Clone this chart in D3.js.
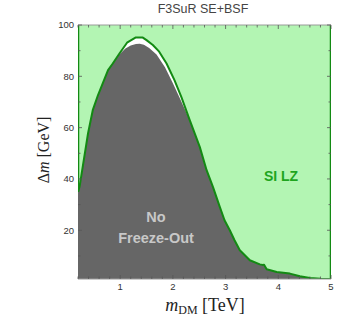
<!DOCTYPE html>
<html><head><meta charset="utf-8">
<script src="https://cdn.jsdelivr.net/npm/d3@7"></script>
<style>body{margin:0;background:#fff}svg{display:block}</style>
</head><body>
<svg id="c" width="351" height="328"></svg>
<script>
// SI LZ boundary (green line): mDM [TeV] vs Δm [GeV]
const lzX = [0.2,0.23,0.39,0.48,0.58,0.77,0.86,0.99,1.13,1.29,1.43,1.50,1.62,1.74,1.88,2.03,2.16,2.32,2.51,2.64,2.76,2.89,2.98,3.08,3.17,3.27,3.46,3.65,3.70,3.73,3.78,3.97,4.22,4.41,4.6,4.8,5.0];
const lzY = [35,37,57.7,66.8,72.7,82.4,85,89,93.1,95.1,95.1,94.1,92.2,89.6,85,78.5,72,62.9,52.5,43.4,36.9,29.1,23.9,20,16.1,12.2,8.3,6.7,6.5,6.6,4.8,3.7,3.1,2.05,1.4,1.1,1.0];
// No freeze-out boundary (gray region top)
const nfX = [0.2,0.23,0.39,0.48,0.58,0.77,0.86,0.99,1.1,1.2,1.3,1.37,1.45,1.55,1.69,1.85,2.0,2.13,2.32,2.51,2.64,2.76,2.89,2.98,3.08,3.17,3.27,3.46,3.65,3.70,3.73,3.78,3.97,4.22,4.41,4.6,4.8,5.0];
const nfY = [35,37,57.7,66.8,72.7,82.4,85,88.6,90.8,92.0,92.6,92.7,92.3,91,88.5,83.5,77.3,71.5,62.9,52.5,43.4,36.9,29.1,23.9,20,16.1,12.2,8.3,6.7,6.5,6.6,4.8,3.7,3.1,2.05,1.4,1.1,1.0];
const xTicks = [1,2,3,4,5];
const yTicks = [20,40,60,80,100];
const title = "F3SuR SE+BSF";

const svg = d3.select("#c");
const L=78,R=331,T=25,B=279;
const x = d3.scaleLinear().domain([0.2,5]).range([L,R]);
const y = d3.scaleLinear().domain([1,100]).range([B,T]);

const lz = lzX.map((v,i)=>[v,lzY[i]]);
const nf = nfX.map((v,i)=>[v,nfY[i]]);

svg.append("defs").append("clipPath").attr("id","cp").append("rect")
  .attr("x",L).attr("y",T).attr("width",R-L).attr("height",B-T);
const g = svg.append("g").attr("clip-path","url(#cp)");

g.append("rect").attr("x",L).attr("y",T).attr("width",R-L).attr("height",B-T).attr("fill","#fff");

const lzPoly = [[0.2,100]].concat(lz).concat([[5,100]]);
g.append("path").datum(lzPoly)
  .attr("d",d3.line().x(d=>x(d[0])).y(d=>y(d[1])))
  .attr("fill","#b3f5b3");

g.append("path").datum(nf)
  .attr("d",d3.area().x(d=>x(d[0])).y0(y(1)).y1(d=>y(d[1])))
  .attr("fill","#666666");

g.append("path").datum(lz)
  .attr("d",d3.line().x(d=>x(d[0])).y(d=>y(d[1])))
  .attr("fill","none").attr("stroke","#138a13").attr("stroke-width",2).attr("stroke-linejoin","round");
g.append("line").attr("x1",x(0.2)).attr("x2",x(0.2)).attr("y1",T).attr("y2",y(35)).attr("stroke","#138a13").attr("stroke-width",2.5);
g.append("line").attr("x1",x(5)).attr("x2",x(5)).attr("y1",T).attr("y2",y(1)).attr("stroke","#138a13").attr("stroke-width",2.5);

svg.append("line").attr("x1",L).attr("x2",R).attr("y1",T).attr("y2",T).attr("stroke","#9a9a9a").attr("stroke-width",1);
svg.append("line").attr("x1",L).attr("x2",R).attr("y1",B).attr("y2",B).attr("stroke","#9a9a9a").attr("stroke-width",1);

const tc = "#555";
const tg = svg.append("g").attr("stroke",tc).attr("stroke-width",0.8);
d3.range(0.2,5.001,0.2).forEach(v=>{
  const major = Math.abs(v-Math.round(v))<1e-6;
  const len = major?4:2.5;
  tg.append("line").attr("x1",x(v)).attr("x2",x(v)).attr("y1",B).attr("y2",B-len);
  tg.append("line").attr("x1",x(v)).attr("x2",x(v)).attr("y1",T).attr("y2",T+len);
});
d3.range(10,100.1,10).forEach(v=>{
  const major = v%20===0;
  const len = major?4:2.5;
  tg.append("line").attr("x1",L).attr("x2",L+len).attr("y1",y(v)).attr("y2",y(v));
  tg.append("line").attr("x1",R).attr("x2",R-len).attr("y1",y(v)).attr("y2",y(v));
});

const lf = "Liberation Sans, Arial, sans-serif";
svg.selectAll(".xl").data(xTicks).enter().append("text")
  .attr("x",d=>x(d)).attr("y",290).attr("text-anchor","middle")
  .attr("font-family",lf).attr("font-size",9.5).attr("fill","#333").text(d=>d);
svg.selectAll(".yl").data(yTicks).enter().append("text")
  .attr("x",74).attr("y",d=>y(d)+3.3).attr("text-anchor","end")
  .attr("font-family",lf).attr("font-size",9.5).attr("fill","#333").text(d=>d);

svg.append("text").attr("x",203).attr("y",12.5).attr("text-anchor","middle")
  .attr("font-family",lf).attr("font-size",12.5).attr("fill","#444").text(title);

const sf = "Liberation Serif, DejaVu Serif, serif";
const xl = svg.append("text").attr("x",205).attr("y",311).attr("text-anchor","middle")
  .attr("font-family",sf).attr("font-size",18).attr("fill","#222");
xl.append("tspan").attr("font-style","italic").text("m");
xl.append("tspan").attr("font-size",12).attr("dy",3).text("DM");
xl.append("tspan").attr("dy",-3).text(" [TeV]");

const yl = svg.append("text").attr("transform","translate(49,150) rotate(-90)").attr("text-anchor","middle")
  .attr("font-family",sf).attr("font-size",16).attr("fill","#222");
yl.append("tspan").text("Δ");
yl.append("tspan").attr("font-style","italic").text("m");
yl.append("tspan").text(" [GeV]");

svg.append("text").attr("x",156).attr("y",222).attr("text-anchor","middle")
  .attr("font-family",lf).attr("font-weight","bold").attr("font-size",14.5).attr("fill","#c8c8c8").text("No");
svg.append("text").attr("x",156).attr("y",243).attr("text-anchor","middle")
  .attr("font-family",lf).attr("font-weight","bold").attr("font-size",14.5).attr("fill","#c8c8c8").text("Freeze-Out");
svg.append("text").attr("x",281).attr("y",181).attr("text-anchor","middle")
  .attr("font-family",lf).attr("font-weight","bold").attr("font-size",14).attr("fill","#1ea51e").text("SI LZ");
</script>
</body></html>
